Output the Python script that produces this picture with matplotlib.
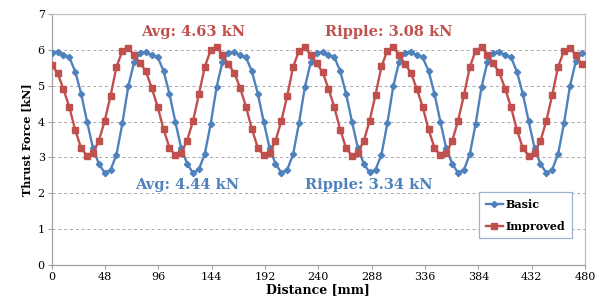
import numpy as np
import matplotlib
matplotlib.use("Agg")
import matplotlib.pyplot as plt

# distance step between samples (mm)
step = 5.3
basic = [
    5.91, 5.95, 5.86, 5.79, 5.39, 4.78, 4.00, 3.27, 2.82, 2.57, 2.65, 3.08, 3.95, 4.98, 5.66,
    5.91, 5.94, 5.85, 5.80, 5.41, 4.77, 3.99, 3.25, 2.83, 2.56, 2.67, 3.10, 3.94, 4.96, 5.67,
    5.92, 5.95, 5.85, 5.79, 5.40, 4.78, 4.00, 3.26, 2.83, 2.57, 2.66, 3.09, 3.96, 4.97, 5.66,
    5.91, 5.94, 5.86, 5.80, 5.40, 4.77, 3.99, 3.26, 2.82, 2.58, 2.66, 3.08, 3.95, 4.98, 5.67,
    5.92, 5.95, 5.85, 5.79, 5.41, 4.78, 4.00, 3.25, 2.83, 2.57, 2.65, 3.09, 3.94, 4.97, 5.66,
    5.91, 5.94, 5.86, 5.80, 5.39, 4.78, 4.01, 3.26, 2.82, 2.57, 2.66, 3.10, 3.95, 4.98, 5.68,
    5.91,
]
improved = [
    5.58, 5.35, 4.90, 4.40, 3.76, 3.26, 3.05, 3.12, 3.46, 4.02, 4.72, 5.53, 5.97, 6.06, 5.85,
    5.64, 5.40, 4.93, 4.41, 3.78, 3.27, 3.06, 3.13, 3.47, 4.02, 4.76, 5.53, 5.99, 6.08, 5.87,
    5.60, 5.36, 4.94, 4.41, 3.79, 3.27, 3.06, 3.12, 3.46, 4.02, 4.72, 5.53, 5.97, 6.07, 5.86,
    5.63, 5.38, 4.92, 4.40, 3.77, 3.26, 3.05, 3.13, 3.46, 4.03, 4.75, 5.54, 5.98, 6.08, 5.86,
    5.61, 5.36, 4.91, 4.41, 3.78, 3.27, 3.06, 3.12, 3.45, 4.02, 4.73, 5.52, 5.98, 6.07, 5.87,
    5.62, 5.37, 4.92, 4.40, 3.77, 3.26, 3.05, 3.12, 3.46, 4.02, 4.74, 5.53, 5.97, 6.06, 5.85,
    5.60,
]
xticks = [0, 48, 96, 144, 192, 240, 288, 336, 384, 432, 480]
yticks = [0, 1, 2, 3, 4, 5, 6, 7]

blue = "#4F81BD"
red = "#C0504D"
serif = "DejaVu Serif"

x = np.arange(len(basic)) * step

fig = plt.figure(figsize=(6.09, 3.02), dpi=100)
ax = fig.add_axes([0.0849, 0.1225, 0.8757, 0.8311])

ax.plot(x, basic, color=blue, lw=1.7, marker="D", ms=3.2, label="Basic", zorder=3)
ax.plot(x, improved, color=red, lw=1.7, marker="s", ms=4.3, label="Improved", zorder=3)

ax.set_xlim(0, 480)
ax.set_ylim(0, 7)
ax.set_xticks(xticks)
ax.set_yticks(yticks)
ax.set_xticklabels([str(t) for t in xticks], family=serif, fontsize=8)
ax.set_yticklabels([str(t) for t in yticks], family=serif, fontsize=8)
ax.tick_params(direction="out", length=3, color="#A0A0A0", pad=2)

for yv in yticks[1:-1]:
    ax.axhline(yv, color="#A6A6A6", lw=0.7, ls=(0, (3, 3)), zorder=1)

for side in ["top", "right"]:
    ax.spines[side].set_color("#C0C0C0")
for side in ["left", "bottom"]:
    ax.spines[side].set_color("#A0A0A0")
for s in ax.spines.values():
    s.set_linewidth(0.9)

ax.set_xlabel("Distance [mm]", family=serif, fontweight="bold", fontsize=9, labelpad=1)
ax.set_ylabel("Thrust Force [kN]", family=serif, fontweight="bold", fontsize=8, labelpad=4)

tkw = dict(family=serif, fontweight="bold", fontsize=10.5, ha="center", va="center")
ax.text(127, 6.5, "Avg: 4.63 kN", color=red, **tkw)
ax.text(303, 6.5, "Ripple: 3.08 kN", color=red, **tkw)
ax.text(122, 2.23, "Avg: 4.44 kN", color=blue, **tkw)
ax.text(285, 2.23, "Ripple: 3.34 kN", color=blue, **tkw)

leg = ax.legend(loc="upper left", bbox_to_anchor=(0.801, 0.291), borderaxespad=0,
                fancybox=False, prop=dict(family=serif, weight="bold", size=8),
                handlelength=1.6, handletextpad=0.2, labelspacing=1.0, borderpad=0.6,
                framealpha=1)
leg.get_frame().set_edgecolor("#9DB2D2")
leg.get_frame().set_linewidth(0.9)

fig.savefig("out.png", dpi=100)
